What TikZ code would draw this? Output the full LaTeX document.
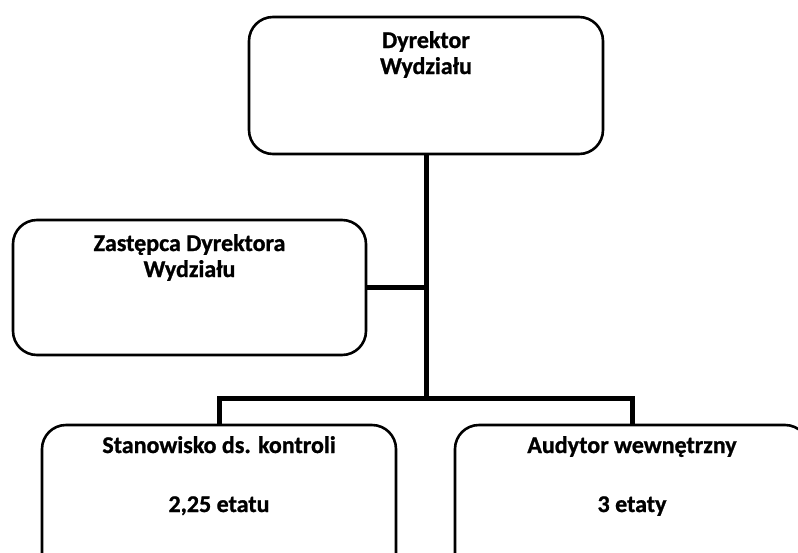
\documentclass[tikz,border=0pt]{standalone}
\usepackage{fontspec}
\setmainfont{Carlito}[FakeBold=1]
\begin{document}
\begin{tikzpicture}[x=1pt, y=-1pt,
  box/.style={draw, line width=2.6pt, rounded corners=24pt, minimum width=354pt, inner sep=0pt},
  txt/.style={font=\fontsize{24}{27}\selectfont\bfseries, anchor=base, inner sep=0pt},
  link/.style={line width=5pt}]
\useasboundingbox (0,0) rectangle (798,552);
\clip (0,0) rectangle (798,552);
\node[box, minimum height=137pt] (dyr) at (426,85.5){};
\node[box, minimum height=135pt, minimum width=353pt] (zast) at (189.5,287.5){};
\node[box, minimum height=200pt] (kontr) at (219,525){};
\node[box, minimum height=200pt] (audyt) at (632,525){};
\node[txt] (dyrt1) at (426,48){Dyrektor};
\node[txt] (dyrt2) at (426,74){Wydziału};
\node[txt] (zastt1) at (189.5,251){Zastępca Dyrektora};
\node[txt] (zastt2) at (189.5,277){Wydziału};
\node[txt] (kontrt1) at (219,453){Stanowisko ds. kontroli};
\node[txt] (kontrt2) at (219,512){2,25 etatu};
\node[txt] (audytt1) at (632,453){Audytor wewnętrzny};
\node[txt] (audytt2) at (632,512){3 etaty};
\coordinate (split) at (426,398);
\draw[link](dyr.south) -- (split);
\draw[link](zast.east) -- (zast.east -| split);
\draw[link](split) -- (split -| kontr.north) -- (kontr.north);
\draw[link](split) -- (split -| audyt.north) -- (audyt.north);
\end{tikzpicture}
\end{document}
